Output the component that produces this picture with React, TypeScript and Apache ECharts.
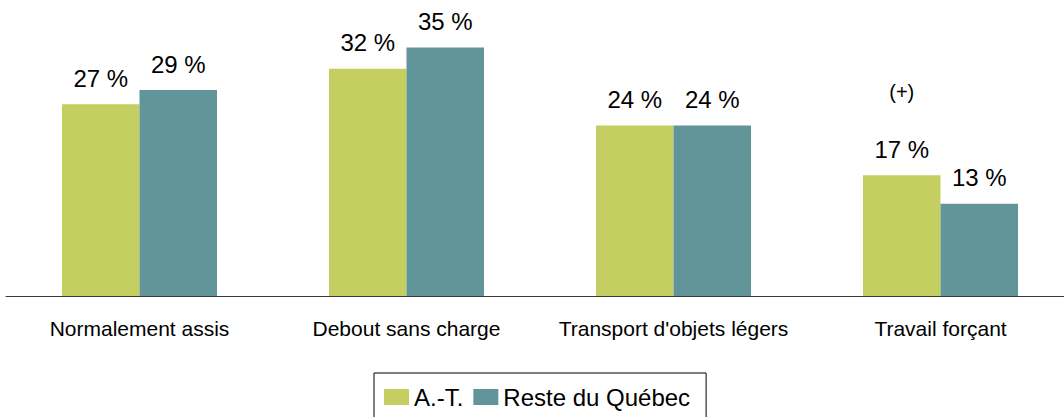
import React, { useEffect, useRef } from "react";
import * as echarts from "echarts";

const categories = ["Normalement assis", "Debout sans charge", "Transport d'objets légers", "Travail forçant"];
const seriesNames = ["A.-T.", "Reste du Québec"];
const atValues = [27, 32, 24, 17];
const resteValues = [29, 35, 24, 13];
const significanceMark = { category: "Travail forçant", value: 28.7, text: "(+)" };

const FONT = "'Liberation Sans', Arial, sans-serif";

export default function App() {
  const ref = useRef<HTMLDivElement>(null);
  useEffect(() => {
    document.body.style.margin = "0";
    if (!ref.current) return;
    const chart = echarts.init(ref.current, null, { renderer: "svg" });
    const labelStyle = {
      show: true,
      position: "top" as const,
      distance: 14,
      formatter: "{c} %",
      color: "#000",
      fontSize: 24,
      fontFamily: FONT,
    };
    chart.setOption({
      animation: false,
      textStyle: { fontFamily: FONT },
      grid: { left: 6, width: 1068, top: 12, bottom: 121, containLabel: false },
      legend: {
        data: seriesNames,
        left: 374,
        top: 373,
        orient: "horizontal",
        itemWidth: 25,
        itemHeight: 16,
        itemGap: 10,
        padding: [12, 16, 14, 10],
        borderColor: "#000",
        borderWidth: 1,
        borderRadius: 0,
        icon: "rect",
        textStyle: { fontSize: 24, color: "#000", fontFamily: FONT },
      },
      xAxis: {
        type: "category",
        data: categories,
        axisLine: { show: true, lineStyle: { color: "#3a3a3a", width: 1 } },
        axisTick: { show: false },
        axisLabel: { color: "#000", fontSize: 21, margin: 22, fontFamily: FONT, interval: 0 },
      },
      yAxis: {
        type: "value",
        min: 0,
        max: 40,
        show: false,
        splitLine: { show: false },
      },
      series: [
        {
          name: seriesNames[0],
          type: "bar",
          data: atValues,
          barWidth: 77.5,
          barGap: "0%",
          itemStyle: { color: "#C5CE60" },
          label: labelStyle,
          markPoint: {
            symbol: "circle",
            symbolSize: 1,
            itemStyle: { color: "rgba(0,0,0,0)" },
            label: {
              show: true,
              position: "inside",
              formatter: significanceMark.text,
              color: "#000",
              fontSize: 20,
              fontFamily: FONT,
            },
            data: [{ coord: [significanceMark.category, significanceMark.value] }],
          },
        },
        {
          name: seriesNames[1],
          type: "bar",
          data: resteValues,
          barWidth: 77.5,
          barGap: "0%",
          itemStyle: { color: "#62959A" },
          label: labelStyle,
        },
      ],
    });
    return () => chart.dispose();
  }, []);
  return (
    <div style={{ width: 1064, height: 417, overflow: "hidden", position: "relative" }}>
      <div ref={ref} style={{ width: 1080, height: 417 }} />
    </div>
  );
}
